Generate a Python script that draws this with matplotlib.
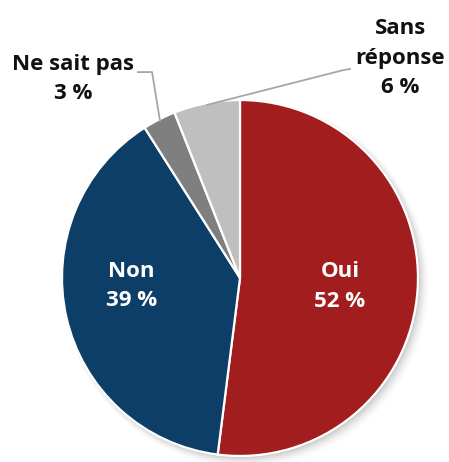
import numpy as np
import matplotlib.pyplot as plt
from matplotlib.patches import Circle

plt.rcParams['font.family'] = ['Open Sans', 'DejaVu Sans']

# Survey answers
labels = ['Oui', 'Non', 'Ne sait pas', 'Sans\nréponse']
shares = [52, 39, 3, 6]
colors = ['#A21D1E', '#0D3E67', '#7F7F7F', '#BFBFBF']

fig = plt.figure(figsize=(4.49, 4.62), dpi=100)
ax = fig.add_axes([0, 0, 1, 1])

# soft shadow under the pie
for i, a in enumerate(np.linspace(0.05, 0.012, 6)):
    ax.add_patch(Circle((0.012 + 0.004 * i, -0.012 - 0.004 * i), 1.0 + 0.006 * i,
                        color='black', alpha=a, lw=0, zorder=0))

wedges, _ = ax.pie(shares, colors=colors, startangle=90, counterclock=False,
                   radius=1.0, center=(0, 0),
                   wedgeprops={'edgecolor': 'white', 'linewidth': 1.6})
for w in wedges:
    w.set_zorder(2)

ax.set_xlim(-1.348, 1.174)
ax.set_ylim(-1.034, 1.562)
ax.set_aspect('equal')
ax.axis('off')

txt = dict(fontsize=16, fontweight='bold', ha='center', va='center',
           linespacing=1.55, zorder=5)

# labels inside the two large slices
ax.text(0.562, -0.05, f'{labels[0]}\n{shares[0]} %', color='white', **txt)
ax.text(-0.612, -0.045, f'{labels[1]}\n{shares[1]} %', color='white', **txt)

# leader lines for the small slices
def rim_point(w):
    ang = np.deg2rad((w.theta1 + w.theta2) / 2)
    return np.cos(ang), np.sin(ang)

line_kw = dict(color='#A6A6A6', lw=1.3, zorder=3)

x3, y3 = rim_point(wedges[2])
ax.plot([-0.573, -0.494, x3 * 0.99], [1.157, 1.157, y3 * 0.99], **line_kw)
ax.text(-0.938, 1.118, f'{labels[2]}\n{shares[2]} %', color='#111111', **txt)

x4, y4 = rim_point(wedges[3])
ax.plot([0.618, 0.58, x4 * 0.99], [1.174, 1.168, y4 * 0.99], **line_kw)
ax.text(0.9, 1.236, f'{labels[3]}\n{shares[3]} %', color='#111111', **txt)

fig.savefig('out.png', dpi=100, facecolor='white')
